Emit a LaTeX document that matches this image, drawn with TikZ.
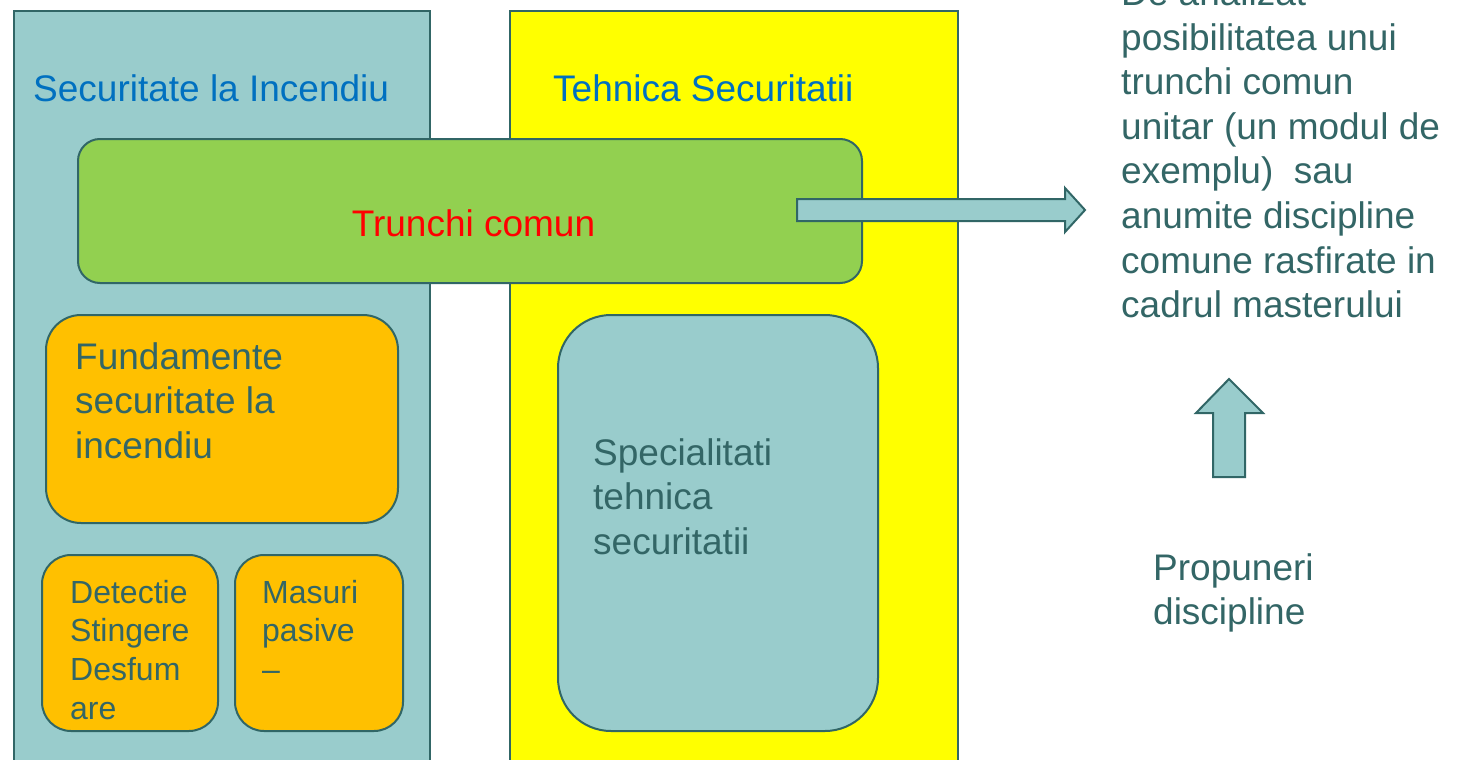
\documentclass[tikz,border=0pt]{standalone}
\usepackage{fontspec}
\setmainfont{Liberation Sans}
\usetikzlibrary{calc}
\definecolor{panelteal}{RGB}{153,204,204}
\definecolor{edge}{RGB}{49,102,102}
\definecolor{txt}{RGB}{51,102,102}
\definecolor{headblue}{RGB}{0,112,192}
\definecolor{leafgreen}{RGB}{146,208,80}
\definecolor{amber}{RGB}{255,192,0}
\definecolor{brightyellow}{RGB}{255,255,0}
\tikzset{
  box/.style={draw=edge, line width=2pt, anchor=north west, inner sep=0pt},
  % multi-line labels are placed by the baseline of their last line
  bigtext/.style={font=\fontsize{37}{44.6}\selectfont, inner sep=0pt, anchor=base west, align=left},
  smalltext/.style={font=\fontsize{32}{38.7}\selectfont, inner sep=0pt, anchor=base west, align=left},
  fatarrow/.style={draw=edge, line width=2pt, fill=panelteal, line join=miter},
}
\begin{document}
\begin{tikzpicture}[x=1pt,y=-1pt]
\useasboundingbox (0,0) rectangle (1459,760);
\clip (0,0) rectangle (1459,760);
\fill[white] (0,0) rectangle (1459,760);

% two programme columns
\node[box, fill=panelteal, minimum width=416pt, minimum height=800pt] (fire) at (13,10) {};
\node[box, fill=brightyellow, minimum width=448pt, minimum height=800pt] (tech) at (509,10) {};
\node[bigtext, text=headblue] (firetitle) at (33,101) {Securitate la Incendiu};
\node[bigtext, text=headblue] (techtitle) at (553,101) {Tehnica Securitatii};

% shared trunk
\node[box, fill=leafgreen, rounded corners=22pt, minimum width=784pt, minimum height=144pt] (trunk) at (77,138) {};
\node[font=\fontsize{37}{44.6}\selectfont, text=red, inner sep=0pt, anchor=base] (trunktext) at (473.5,236) {Trunchi comun};

% fire safety modules
\node[box, fill=amber, rounded corners=35pt, minimum width=352pt, minimum height=208pt] (fund) at (45,314) {};
\node[bigtext, text=txt] (fundtext) at (75,458.2) {Fundamente\\securitate la\\incendiu};
\node[box, fill=amber, rounded corners=29pt, minimum width=176pt, minimum height=176pt] (detect) at (41,554) {};
\node[smalltext, text=txt] (detecttext) at (70,719.1) {Detectie\\Stingere\\Desfum\\are};
\node[box, fill=amber, rounded corners=29pt, minimum width=168pt, minimum height=176pt] (pasive) at (234,554) {};
\node[smalltext, text=txt] (pasivetext) at (262,680.4) {Masuri\\pasive\\–};

% technical security specialities
\node[box, fill=panelteal, rounded corners=53pt, minimum width=320pt, minimum height=416pt] (spec) at (557,314) {};
\node[bigtext, text=txt] (spectext) at (593,554.2) {Specialitati\\tehnica\\securitatii};

% notes on the right
\node[bigtext, text=txt] (note) at (1121,317.7) {De analizat\\posibilitatea unui\\trunchi comun\\unitar (un modul de\\exemplu)\ \ sau\\anumite discipline\\comune rasfirate in\\cadrul masterului};
\node[bigtext, text=txt] (prop) at (1153,624.6) {Propuneri\\discipline};

% block arrow from the trunk to the note
\coordinate (rs) at (797,210);
\coordinate (rt) at (1085,210);
\draw[fatarrow] ($(rs)+(0,-11)$) -- ($(rt)+(-20,-11)$) -- ($(rt)+(-20,-22)$) -- (rt)
  -- ($(rt)+(-20,22)$) -- ($(rt)+(-20,11)$) -- ($(rs)+(0,11)$) -- cycle;

% block arrow from the proposals up to the note
\coordinate (us) at (1229,477);
\coordinate (ut) at (1229,379);
\draw[fatarrow] ($(us)+(-16,0)$) -- ($(ut)+(-16,34)$) -- ($(ut)+(-33,34)$) -- (ut)
  -- ($(ut)+(34,34)$) -- ($(ut)+(16,34)$) -- ($(us)+(16,0)$) -- cycle;
\end{tikzpicture}
\end{document}
